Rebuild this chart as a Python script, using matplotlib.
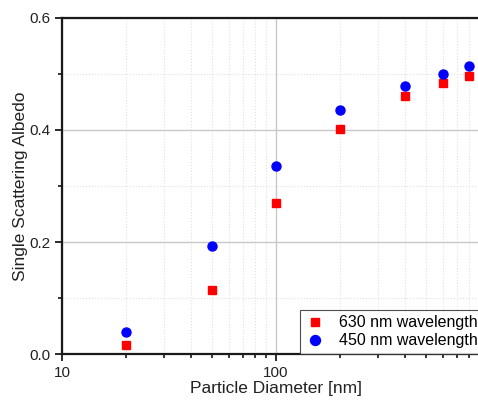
import matplotlib
matplotlib.use("Agg")
import matplotlib.pyplot as plt
from matplotlib.ticker import LogLocator, NullFormatter, FixedLocator, MultipleLocator

plt.rcParams['font.family'] = ['Liberation Sans', 'DejaVu Sans']

diameters = [20, 50, 100, 200, 400, 600, 800]
albedo_630 = [0.016, 0.114, 0.270, 0.402, 0.461, 0.484, 0.496]
albedo_450 = [0.039, 0.193, 0.336, 0.436, 0.479, 0.500, 0.514]

W, H = 478, 408
fig = plt.figure(figsize=(W/100, H/100), dpi=100)
# axes: left 62px, right ~490px (beyond figure), top 18px, bottom 354px
ax = fig.add_axes([62/W, 1-354/H, (490-62)/W, (354-18)/H])

ax.set_xscale('log')
ax.set_xlim(10, 1000)
ax.set_ylim(0, 0.6)

ax.grid(True, which='major', color='#c8c8c8', linewidth=1.0, linestyle='-')
ax.grid(True, which='minor', color='#e0e0e0', linewidth=0.8, linestyle=':')
ax.set_axisbelow(True)

ax.plot(diameters, albedo_630, linestyle='none', marker='s', markersize=5.5,
        color='#ff0000', label='630 nm wavelength')
ax.plot(diameters, albedo_450, linestyle='none', marker='o', markersize=6.5,
        color='#0000ff', label='450 nm wavelength')

ax.xaxis.set_major_locator(FixedLocator([10, 100]))
ax.xaxis.set_major_formatter(matplotlib.ticker.FixedFormatter(['10', '100']))
ax.xaxis.set_minor_locator(LogLocator(base=10, subs=range(2, 10), numticks=20))
ax.xaxis.set_minor_formatter(NullFormatter())
ax.yaxis.set_major_locator(MultipleLocator(0.2))
ax.yaxis.set_minor_locator(MultipleLocator(0.1))
ax.yaxis.set_major_formatter(matplotlib.ticker.FormatStrFormatter('%.1f'))

for s in ['left', 'bottom', 'top']:
    ax.spines[s].set_linewidth(1.6)
    ax.spines[s].set_color('#1a1a1a')
ax.spines['right'].set_visible(False)

ax.tick_params(axis='both', which='major', direction='out', length=5, width=1.3,
               labelsize=11, colors='#1a1a1a', labelcolor='#222222')
ax.tick_params(axis='both', which='minor', direction='out', length=3, width=1.1)

ax.set_xlabel('Particle Diameter [nm]', fontsize=12.5, color='#222222', labelpad=1)
ax.set_ylabel('Single Scattering Albedo', fontsize=12.5, color='#222222', labelpad=1)

leg = ax.legend(loc='lower left', bbox_to_anchor=((300-62)/(490-62), 0.0),
                fontsize=11.5, frameon=True, fancybox=False, edgecolor='#222222',
                borderaxespad=0, handletextpad=0.9, borderpad=0.35,
                labelspacing=0.2, handlelength=1.2, markerscale=1.1)
leg.get_frame().set_linewidth(0.8)

fig.savefig('out.png', dpi=100)
